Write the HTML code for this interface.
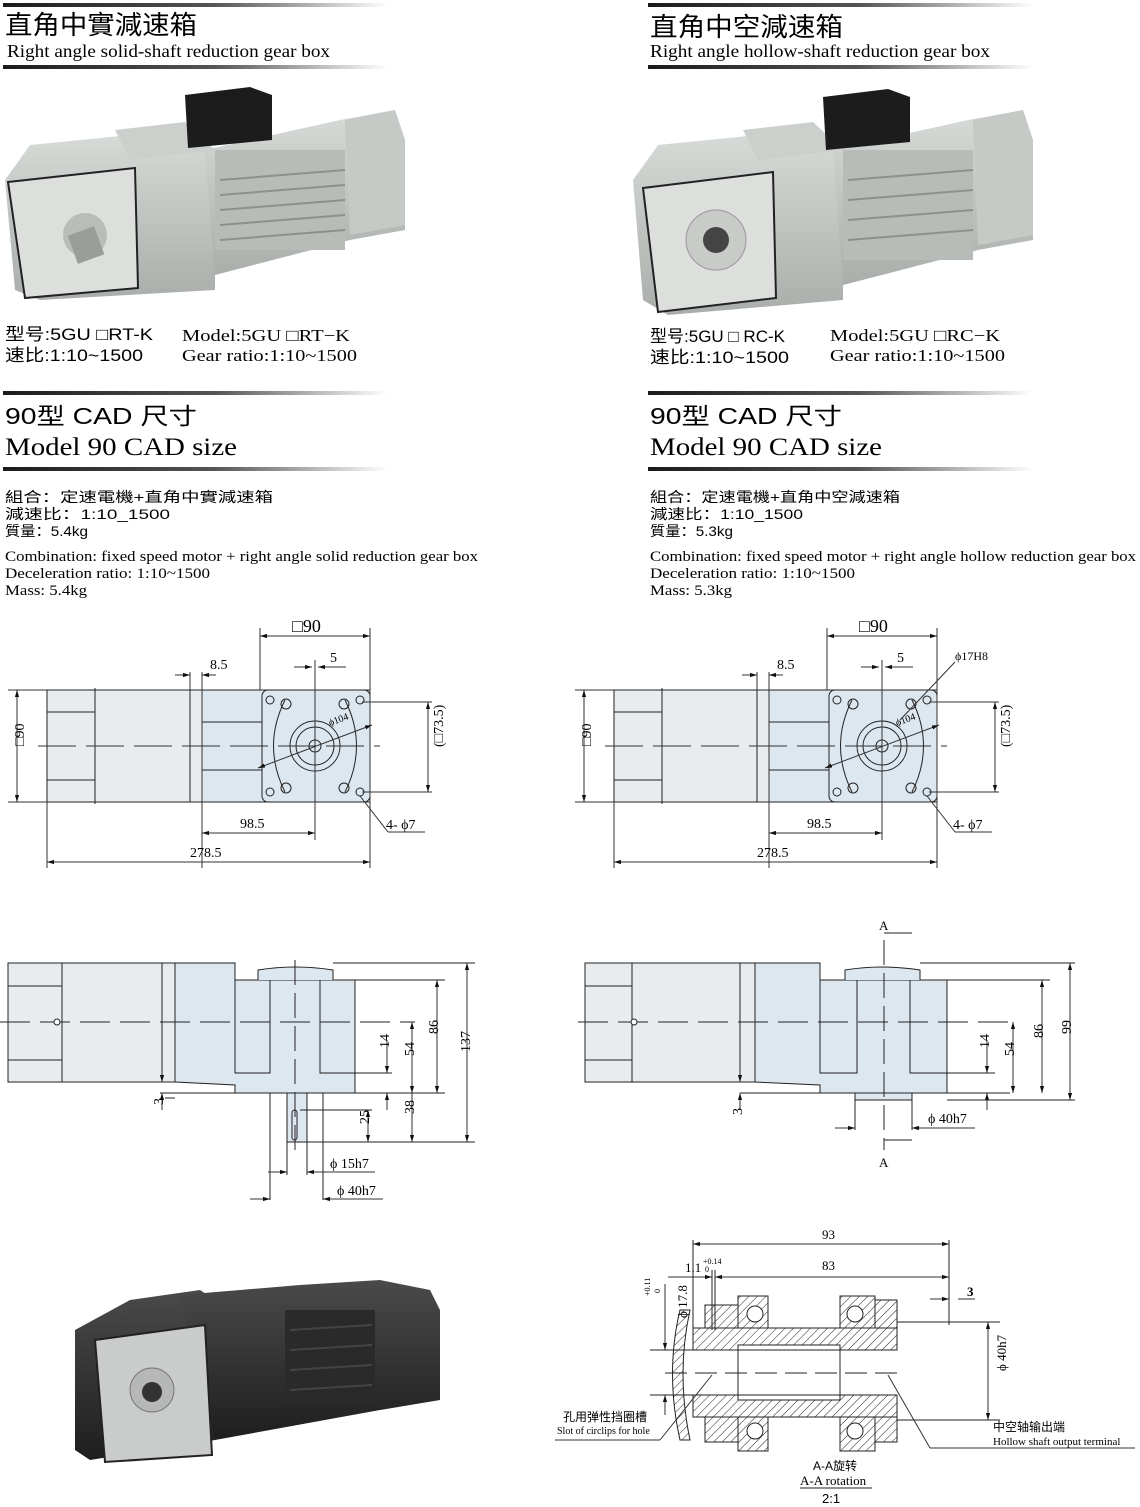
<!DOCTYPE html>
<html><head><meta charset="utf-8"><style>
body{margin:0;background:#fff;width:1140px;height:1507px;overflow:hidden}
svg{display:block}
.s{font-family:"Liberation Serif","Noto Serif CJK SC",serif}
.a{font-family:"Liberation Sans","Noto Sans CJK SC",sans-serif}
</style></head><body>
<svg width="1140" height="1507" viewBox="0 0 1140 1507" xmlns="http://www.w3.org/2000/svg">
<defs>
<linearGradient id="bar" x1="0" x2="1"><stop offset="0" stop-color="#1a1a1a"/><stop offset="0.55" stop-color="#555"/><stop offset="1" stop-color="#fff"/></linearGradient>
<linearGradient id="gray" x1="0" y1="0" x2="0" y2="1"><stop offset="0" stop-color="#d8dcd8"/><stop offset="1" stop-color="#a9aeaa"/></linearGradient>
<linearGradient id="dark" x1="0" y1="0" x2="0" y2="1"><stop offset="0" stop-color="#4a4a4a"/><stop offset="1" stop-color="#1e1e1e"/></linearGradient>
<pattern id="h" width="6" height="6" patternUnits="userSpaceOnUse" patternTransform="rotate(45)"><rect width="6" height="6" fill="#fff"/><line x1="0" y1="0" x2="0" y2="6" stroke="#222" stroke-width="1"/></pattern>
<marker id="ar" viewBox="0 0 10 10" refX="10" refY="5" markerWidth="7" markerHeight="7" orient="auto-start-reverse"><path d="M0,2 L10,5 L0,8z" fill="#111"/></marker>
<g id="d1">
<rect x="47" y="690" width="143" height="112" fill="#e9ecee" stroke="#222"/>
<line x1="47" y1="712" x2="95" y2="712" stroke="#222"/><line x1="47" y1="780" x2="95" y2="780" stroke="#222"/>
<line x1="95" y1="688" x2="95" y2="804" stroke="#222"/>
<rect x="190" y="690" width="12" height="112" fill="#e9ecee" stroke="#222"/>
<rect x="202" y="690" width="168" height="112" fill="#dde7ef" stroke="#222"/>
<line x1="202" y1="722" x2="262" y2="722" stroke="#222"/><line x1="202" y1="770" x2="262" y2="770" stroke="#222"/>
<rect x="262" y="690" width="108" height="112" rx="6" fill="#dde7ef" stroke="#222"/>
<path d="M285 700 Q262 746 285 792 M345 700 Q368 746 345 792" fill="none" stroke="#222"/>
<circle cx="315" cy="746" r="25" fill="none" stroke="#222"/><circle cx="315" cy="746" r="19" fill="none" stroke="#222"/><circle cx="315" cy="746" r="6" fill="none" stroke="#222"/>
<g fill="none" stroke="#222"><circle cx="270" cy="700" r="4"/><circle cx="360" cy="700" r="4"/><circle cx="270" cy="792" r="4"/><circle cx="360" cy="792" r="4"/>
<circle cx="286" cy="704" r="5"/><circle cx="344" cy="704" r="5"/><circle cx="286" cy="788" r="5"/><circle cx="344" cy="788" r="5"/></g>
<line x1="38" y1="746" x2="380" y2="746" stroke="#333" stroke-dasharray="38,10"/>
<line x1="315" y1="660" x2="315" y2="840" stroke="#333"/>
<line x1="258" y1="768" x2="372" y2="725" stroke="#333" marker-start="url(#ar)" marker-end="url(#ar)"/>
<text x="330" y="726" font-size="10" class="s" transform="rotate(-20 330 726)">ϕ104</text>
<line x1="260" y1="628" x2="260" y2="690" stroke="#333"/><line x1="370" y1="628" x2="370" y2="868" stroke="#333"/>
<line x1="260" y1="636" x2="370" y2="636" stroke="#333" marker-start="url(#ar)" marker-end="url(#ar)"/>
<text x="292" y="632" font-size="18" class="s">□90</text>
<line x1="294" y1="667" x2="312" y2="667" stroke="#333" marker-end="url(#ar)"/><line x1="346" y1="667" x2="318" y2="667" stroke="#333" marker-end="url(#ar)"/>
<text x="330" y="662" font-size="14" class="s">5</text>
<line x1="175" y1="675" x2="190" y2="675" stroke="#333" marker-end="url(#ar)"/><line x1="216" y1="675" x2="202" y2="675" stroke="#333" marker-end="url(#ar)"/>
<line x1="190" y1="672" x2="190" y2="690" stroke="#333"/><line x1="202" y1="672" x2="202" y2="868" stroke="#333"/>
<text x="210" y="669" font-size="14" class="s">8.5</text>
<line x1="8" y1="690" x2="47" y2="690" stroke="#333"/><line x1="8" y1="802" x2="47" y2="802" stroke="#333"/>
<line x1="17" y1="690" x2="17" y2="802" stroke="#333" marker-start="url(#ar)" marker-end="url(#ar)"/>
<text x="12" y="758" font-size="14" class="s" transform="rotate(-90 12 746)">□90</text>
<line x1="202" y1="833" x2="315" y2="833" stroke="#333" marker-start="url(#ar)" marker-end="url(#ar)"/>
<text x="240" y="828" font-size="14" class="s">98.5</text>
<line x1="47" y1="802" x2="47" y2="868" stroke="#333"/>
<line x1="47" y1="862" x2="370" y2="862" stroke="#333" marker-start="url(#ar)" marker-end="url(#ar)"/>
<text x="190" y="857" font-size="14" class="s">278.5</text>
<line x1="362" y1="702" x2="432" y2="702" stroke="#333"/><line x1="362" y1="792" x2="432" y2="792" stroke="#333"/>
<line x1="428" y1="702" x2="428" y2="792" stroke="#333" marker-start="url(#ar)" marker-end="url(#ar)"/>
<text x="420" y="770" font-size="14" class="s" transform="rotate(-90 420 747)">(□73.5)</text>
<line x1="360" y1="796" x2="388" y2="832" stroke="#333"/><line x1="388" y1="832" x2="425" y2="832" stroke="#333"/>
<text x="386" y="829" font-size="14" class="s">4- ϕ7</text>
</g>
</defs>
<!-- headers -->
<rect x="3" y="3" width="385" height="4" fill="url(#bar)"/><rect x="648" y="3" width="385" height="4" fill="url(#bar)"/>
<text x="5" y="34" font-size="26" class="a" textLength="192" lengthAdjust="spacingAndGlyphs">直角中實減速箱</text>
<text x="650" y="36" font-size="26" class="a" textLength="193" lengthAdjust="spacingAndGlyphs">直角中空減速箱</text>
<text x="7" y="57" font-size="18" class="s" textLength="323" lengthAdjust="spacingAndGlyphs">Right angle solid-shaft reduction gear box</text>
<text x="650" y="57" font-size="18" class="s" textLength="340" lengthAdjust="spacingAndGlyphs">Right angle hollow-shaft reduction gear box</text>
<rect x="3" y="65" width="385" height="4" fill="url(#bar)"/><rect x="648" y="65" width="385" height="4" fill="url(#bar)"/>
<!-- photo left -->
<g>
<polygon points="5,180 30,145 180,130 200,150 215,150 215,290 40,300 15,290" fill="url(#gray)"/>
<polygon points="115,130 185,122 215,150 130,160" fill="#ccd0cc"/>
<polygon points="205,150 340,120 395,110 405,140 405,230 350,240 215,275" fill="url(#gray)"/>
<rect x="215" y="150" width="130" height="100" fill="#b7bcb8"/>
<g stroke="#8c918d" stroke-width="2"><line x1="220" y1="180" x2="345" y2="170"/><line x1="220" y1="195" x2="345" y2="185"/><line x1="220" y1="210" x2="345" y2="200"/><line x1="220" y1="225" x2="345" y2="215"/><line x1="220" y1="240" x2="345" y2="230"/></g>
<polygon points="345,120 395,110 405,140 405,225 350,235" fill="#c5cac6"/>
<polygon points="185,95 250,87 272,95 272,140 188,148" fill="#1c1c1c"/>
<polygon points="8,182 135,168 138,288 25,298" fill="#dcdfdc" stroke="#222" stroke-width="2"/>
<circle cx="85" cy="235" r="22" fill="#b9bcb9"/><rect x="72" y="230" width="28" height="30" fill="#9a9d9a" transform="rotate(-20 86 245)"/>
</g>
<!-- photo right -->
<g transform="translate(628,0)">
<polygon points="5,180 30,145 180,130 200,150 215,150 215,300 40,315 15,300" fill="url(#gray)"/>
<polygon points="115,130 185,122 215,150 130,160" fill="#ccd0cc"/>
<polygon points="205,150 340,120 395,110 405,140 405,240 350,250 215,285" fill="url(#gray)"/>
<rect x="215" y="150" width="130" height="110" fill="#b7bcb8"/>
<g stroke="#8c918d" stroke-width="2"><line x1="220" y1="180" x2="345" y2="170"/><line x1="220" y1="200" x2="345" y2="190"/><line x1="220" y1="220" x2="345" y2="210"/><line x1="220" y1="240" x2="345" y2="230"/></g>
<polygon points="345,120 395,110 405,140 405,235 350,245" fill="#c5cac6"/>
<polygon points="195,97 260,89 282,97 282,142 198,150" fill="#1c1c1c"/>
<polygon points="15,188 145,172 148,298 30,312" fill="#dcdfdc" stroke="#222" stroke-width="2"/>
<circle cx="88" cy="240" r="30" fill="#c8cbc8" stroke="#999"/><circle cx="88" cy="240" r="13" fill="#444"/>
</g>
<!-- model text -->
<g lengthAdjust="spacingAndGlyphs">
<text x="5" y="340" font-size="17" class="a" textLength="148" lengthAdjust="spacingAndGlyphs">型号:5GU □RT-K</text>
<text x="5" y="361" font-size="17" class="a" textLength="138" lengthAdjust="spacingAndGlyphs">速比:1:10~1500</text>
<text x="182" y="341" font-size="17" class="s" textLength="168" lengthAdjust="spacingAndGlyphs">Model:5GU □RT−K</text>
<text x="182" y="361" font-size="17" class="s" textLength="175" lengthAdjust="spacingAndGlyphs">Gear ratio:1:10~1500</text>
<text x="650" y="342" font-size="17" class="a" textLength="135" lengthAdjust="spacingAndGlyphs">型号:5GU □ RC-K</text>
<text x="650" y="363" font-size="17" class="a" textLength="139" lengthAdjust="spacingAndGlyphs">速比:1:10~1500</text>
<text x="830" y="341" font-size="17" class="s" textLength="170" lengthAdjust="spacingAndGlyphs">Model:5GU □RC−K</text>
<text x="830" y="361" font-size="17" class="s" textLength="175" lengthAdjust="spacingAndGlyphs">Gear ratio:1:10~1500</text>
</g>
<rect x="3" y="391" width="385" height="4" fill="url(#bar)"/><rect x="648" y="391" width="385" height="4" fill="url(#bar)"/>
<text x="5" y="424" font-size="23" class="a" textLength="192" lengthAdjust="spacingAndGlyphs">90型  CAD 尺寸</text>
<text x="650" y="424" font-size="23" class="a" textLength="192" lengthAdjust="spacingAndGlyphs">90型  CAD 尺寸</text>
<text x="5" y="455" font-size="25" class="s" textLength="232" lengthAdjust="spacingAndGlyphs">Model 90  CAD size</text>
<text x="650" y="455" font-size="25" class="s" textLength="232" lengthAdjust="spacingAndGlyphs">Model 90  CAD size</text>
<rect x="3" y="467" width="385" height="4" fill="url(#bar)"/><rect x="648" y="467" width="385" height="4" fill="url(#bar)"/>
<g font-size="14" class="a">
<text x="5" y="502" textLength="268" lengthAdjust="spacingAndGlyphs">組合：定速電機+直角中實減速箱</text><text x="5" y="519" textLength="165" lengthAdjust="spacingAndGlyphs">減速比：1:10_1500</text><text x="5" y="536" textLength="83" lengthAdjust="spacingAndGlyphs">質量：5.4kg</text>
<text x="650" y="502" textLength="250" lengthAdjust="spacingAndGlyphs">組合：定速電機+直角中空減速箱</text><text x="650" y="519" textLength="153" lengthAdjust="spacingAndGlyphs">減速比：1:10_1500</text><text x="650" y="536" textLength="83" lengthAdjust="spacingAndGlyphs">質量：5.3kg</text>
</g>
<g font-size="15" class="s">
<text x="5" y="561" textLength="473" lengthAdjust="spacingAndGlyphs">Combination: fixed speed motor + right angle solid reduction gear box</text><text x="5" y="578" textLength="205" lengthAdjust="spacingAndGlyphs">Deceleration ratio: 1:10~1500</text><text x="5" y="595" textLength="82" lengthAdjust="spacingAndGlyphs">Mass: 5.4kg</text>
<text x="650" y="561" textLength="486" lengthAdjust="spacingAndGlyphs">Combination: fixed speed motor + right angle hollow reduction gear box</text><text x="650" y="578" textLength="205" lengthAdjust="spacingAndGlyphs">Deceleration ratio: 1:10~1500</text><text x="650" y="595" textLength="82" lengthAdjust="spacingAndGlyphs">Mass: 5.3kg</text>
</g>
<!-- drawing 1 -->
<use href="#d1"/>
<g transform="translate(567,0)"><use href="#d1"/></g>
<line x1="900" y1="720" x2="955" y2="662" stroke="#333"/><text x="955" y="660" font-size="12" class="s">ϕ17H8</text>
<!-- drawing 2 left -->
<g stroke="#222" fill="none">
<rect x="8" y="963" width="154" height="119" fill="#e9ecee"/>
<line x1="8" y1="986" x2="62" y2="986"/><line x1="8" y1="1060" x2="62" y2="1060"/><line x1="62" y1="963" x2="62" y2="1082"/>
<rect x="162" y="963" width="13" height="119" fill="#e9ecee"/>
<path d="M175 963 H235 V980 H355 V1093 H235 V1085 L175 1082 Z" fill="#dde7ef"/>
<path d="M258 980 V970 Q295 964 333 970 V980" fill="#dde7ef"/>
<path d="M235 980 V1073 H270 V980 M320 980 V1073 H355"/>
<rect x="287" y="1093" width="20" height="49" fill="#dde7ef"/>
<rect x="292" y="1110" width="5" height="30" rx="2.5"/>
<line x1="0" y1="1022" x2="415" y2="1022" stroke-dasharray="30,10"/>
<circle cx="57" cy="1022" r="3" fill="#fff"/>
<line x1="295" y1="960" x2="295" y2="1150" stroke-dasharray="25,8"/>
<line x1="160" y1="1093" x2="445" y2="1093"/>
<line x1="175" y1="1098" x2="165" y2="1098"/>
<line x1="333" y1="963" x2="475" y2="963"/><line x1="355" y1="980" x2="445" y2="980"/>
<line x1="320" y1="1073" x2="392" y2="1073"/><line x1="307" y1="1142" x2="475" y2="1142"/><line x1="300" y1="1110" x2="372" y2="1110"/>
<line x1="270" y1="1093" x2="270" y2="1200"/><line x1="323" y1="1093" x2="323" y2="1200"/><line x1="287" y1="1142" x2="287" y2="1175"/><line x1="307" y1="1142" x2="307" y2="1175"/>
</g>
<g stroke="#333">
<line x1="467" y1="963" x2="467" y2="1142" marker-start="url(#ar)" marker-end="url(#ar)"/>
<line x1="437" y1="980" x2="437" y2="1093" marker-start="url(#ar)" marker-end="url(#ar)"/>
<line x1="412" y1="1022" x2="412" y2="1093" marker-start="url(#ar)" marker-end="url(#ar)"/>
<line x1="412" y1="1093" x2="412" y2="1142" marker-end="url(#ar)"/>
<line x1="387" y1="1040" x2="387" y2="1073" marker-end="url(#ar)"/><line x1="387" y1="1110" x2="387" y2="1093" marker-end="url(#ar)"/>
<line x1="368" y1="1110" x2="368" y2="1142" marker-start="url(#ar)" marker-end="url(#ar)"/>
<line x1="162" y1="1075" x2="162" y2="1082" marker-end="url(#ar)"/><line x1="162" y1="1110" x2="162" y2="1093" marker-end="url(#ar)"/>
<line x1="268" y1="1172" x2="287" y2="1172" marker-end="url(#ar)"/><line x1="325" y1="1172" x2="307" y2="1172" marker-end="url(#ar)"/>
<line x1="250" y1="1199" x2="270" y2="1199" marker-end="url(#ar)"/><line x1="383" y1="1199" x2="323" y2="1199" marker-end="url(#ar)"/>
<line x1="325" y1="1172" x2="375" y2="1172"/>
</g>
<g font-size="14" class="s">
<text x="462" y="1060" transform="rotate(-90 462 1052)">137</text>
<text x="432" y="1040" transform="rotate(-90 432 1034)">86</text>
<text x="408" y="1062" transform="rotate(-90 408 1056)">54</text>
<text x="383" y="1054" transform="rotate(-90 383 1048)">14</text>
<text x="408" y="1120" transform="rotate(-90 408 1114)">38</text>
<text x="363" y="1130" transform="rotate(-90 363 1124)">25</text>
<text x="158" y="1110" transform="rotate(-90 158 1105)">3</text>
<text x="330" y="1168">ϕ 15h7</text><text x="337" y="1195">ϕ 40h7</text>
</g>
<!-- drawing 2 right -->
<g stroke="#222" fill="none">
<rect x="585" y="963" width="155" height="119" fill="#e9ecee"/>
<line x1="585" y1="986" x2="632" y2="986"/><line x1="585" y1="1060" x2="632" y2="1060"/><line x1="632" y1="963" x2="632" y2="1082"/>
<rect x="740" y="963" width="15" height="119" fill="#e9ecee"/>
<path d="M755 963 H820 V980 H947 V1093 H820 V1085 L755 1082 Z" fill="#dde7ef"/>
<path d="M845 980 V970 Q882 964 920 970 V980" fill="#dde7ef"/>
<path d="M820 980 V1073 H857 V980 M910 980 V1073 H947"/>
<rect x="855" y="1093" width="57" height="7" fill="#dde7ef"/>
<line x1="578" y1="1022" x2="1010" y2="1022" stroke-dasharray="30,10"/>
<circle cx="634" cy="1022" r="3" fill="#fff"/>
<line x1="884" y1="940" x2="884" y2="1150" stroke-dasharray="25,8"/>
<line x1="740" y1="1093" x2="1010" y2="1093"/>
<line x1="920" y1="963" x2="1075" y2="963"/><line x1="947" y1="980" x2="1050" y2="980"/><line x1="947" y1="1100" x2="1075" y2="1100"/>
<line x1="910" y1="1073" x2="995" y2="1073"/>
<line x1="855" y1="1100" x2="855" y2="1130"/><line x1="912" y1="1100" x2="912" y2="1130"/>
<line x1="884" y1="933" x2="912" y2="933"/><line x1="884" y1="1140" x2="912" y2="1140"/>
</g>
<g stroke="#333">
<line x1="1070" y1="963" x2="1070" y2="1100" marker-start="url(#ar)" marker-end="url(#ar)"/>
<line x1="1042" y1="980" x2="1042" y2="1093" marker-start="url(#ar)" marker-end="url(#ar)"/>
<line x1="1013" y1="1022" x2="1013" y2="1093" marker-start="url(#ar)" marker-end="url(#ar)"/>
<line x1="987" y1="1040" x2="987" y2="1073" marker-end="url(#ar)"/><line x1="987" y1="1110" x2="987" y2="1093" marker-end="url(#ar)"/>
<line x1="740" y1="1075" x2="740" y2="1082" marker-end="url(#ar)"/><line x1="740" y1="1110" x2="740" y2="1093" marker-end="url(#ar)"/>
<line x1="835" y1="1128" x2="855" y2="1128" marker-end="url(#ar)"/><line x1="975" y1="1128" x2="912" y2="1128" marker-end="url(#ar)"/>
</g>
<g font-size="14" class="s">
<text x="1065" y="1040" transform="rotate(-90 1065 1034)">99</text>
<text x="1037" y="1044" transform="rotate(-90 1037 1038)">86</text>
<text x="1008" y="1062" transform="rotate(-90 1008 1056)">54</text>
<text x="983" y="1054" transform="rotate(-90 983 1048)">14</text>
<text x="737" y="1120" transform="rotate(-90 737 1115)">3</text>
<text x="928" y="1123">ϕ 40h7</text>
<text x="879" y="930" font-size="13">A</text><text x="879" y="1167" font-size="13">A</text>
</g>
<!-- bottom photo -->
<g>
<polygon points="75,1330 130,1300 200,1290 215,1300 215,1440 90,1460 75,1450" fill="url(#dark)"/>
<polygon points="180,1295 300,1285 380,1280 430,1290 440,1310 440,1400 380,1410 215,1440" fill="url(#dark)"/>
<rect x="285" y="1310" width="90" height="95" fill="#2a2a2a"/>
<g stroke="#444" stroke-width="2"><line x1="290" y1="1330" x2="372" y2="1325"/><line x1="290" y1="1350" x2="372" y2="1345"/><line x1="290" y1="1370" x2="372" y2="1365"/><line x1="290" y1="1390" x2="372" y2="1385"/></g>
<polygon points="95,1340 205,1325 212,1455 105,1462" fill="#c9ccca" stroke="#222" stroke-width="2"/>
<circle cx="152" cy="1390" r="22" fill="#b5b8b6" stroke="#777"/><circle cx="152" cy="1392" r="10" fill="#333"/>
</g>
<!-- section A-A -->
<g stroke="#222">
<rect x="693" y="1328" width="204" height="22" fill="url(#h)"/>
<rect x="693" y="1395" width="204" height="22" fill="url(#h)"/>
<rect x="738" y="1296" width="30" height="32" fill="url(#h)"/>
<rect x="840" y="1296" width="35" height="32" fill="url(#h)"/>
<rect x="738" y="1417" width="30" height="34" fill="url(#h)"/>
<rect x="840" y="1417" width="35" height="34" fill="url(#h)"/>
<rect x="705" y="1305" width="33" height="23" fill="url(#h)"/>
<rect x="875" y="1300" width="22" height="28" fill="url(#h)"/>
<rect x="705" y="1417" width="33" height="25" fill="url(#h)"/>
<rect x="875" y="1417" width="22" height="25" fill="url(#h)"/>
<rect x="738" y="1345" width="102" height="55" fill="#fff"/>
<circle cx="755" cy="1314" r="8" fill="#fff"/><circle cx="855" cy="1314" r="8" fill="#fff"/>
<circle cx="755" cy="1431" r="8" fill="#fff"/><circle cx="855" cy="1431" r="8" fill="#fff"/>
<path d="M680 1310 Q665 1373 680 1440 L690 1440 Q676 1373 690 1310 Z" fill="url(#h)"/>
<line x1="690" y1="1350" x2="897" y2="1350" fill="none"/><line x1="690" y1="1395" x2="897" y2="1395"/>
<line x1="665" y1="1373" x2="900" y2="1373" stroke-dasharray="22,8"/>
<line x1="693" y1="1240" x2="693" y2="1330"/><line x1="949" y1="1240" x2="949" y2="1325"/>
<line x1="712" y1="1270" x2="712" y2="1330"/><line x1="715" y1="1270" x2="715" y2="1330"/>
<line x1="897" y1="1322" x2="1000" y2="1322"/><line x1="897" y1="1420" x2="1000" y2="1420"/>
<line x1="650" y1="1350" x2="700" y2="1350"/><line x1="650" y1="1395" x2="700" y2="1395"/>
</g>
<g stroke="#333">
<line x1="693" y1="1244" x2="949" y2="1244" marker-start="url(#ar)" marker-end="url(#ar)"/>
<line x1="715" y1="1277" x2="949" y2="1277" marker-start="url(#ar)" marker-end="url(#ar)"/>
<line x1="668" y1="1277" x2="712" y2="1277" marker-end="url(#ar)"/>
<line x1="988" y1="1322" x2="988" y2="1420" marker-start="url(#ar)" marker-end="url(#ar)"/>
<line x1="665" y1="1284" x2="665" y2="1350" marker-end="url(#ar)"/><line x1="665" y1="1415" x2="665" y2="1395" marker-end="url(#ar)"/>
<line x1="930" y1="1299" x2="949" y2="1299" marker-end="url(#ar)"/>
<line x1="958" y1="1299" x2="975" y2="1299"/>
<line x1="712" y1="1375" x2="660" y2="1440" fill="none"/><line x1="660" y1="1440" x2="555" y2="1440"/>
<line x1="888" y1="1375" x2="930" y2="1448"/><line x1="930" y1="1448" x2="1135" y2="1448"/>
</g>
<g class="s" font-size="13">
<text x="822" y="1239">93</text><text x="822" y="1270">83</text>
<text x="685" y="1272">1.1</text><text x="703" y="1264" font-size="8">+0.14</text><text x="705" y="1272" font-size="8">0</text>
<text x="967" y="1296" font-weight="bold">3</text>
<text x="660" y="1345" transform="rotate(-90 660 1318)">ϕ 17.8</text>
<text x="650" y="1296" font-size="8" transform="rotate(-90 650 1296)">+0.11</text>
<text x="660" y="1293" font-size="8" transform="rotate(-90 660 1293)">0</text>
<text x="982" y="1395" transform="rotate(-90 982 1371)">ϕ 40h7</text>
<text x="557" y="1434" font-size="10">Slot of circlips for hole</text>
<text x="993" y="1445" font-size="11">Hollow shaft output terminal</text>
<text x="800" y="1485" font-size="13">A-A rotation</text>
</g>
<g class="a">
<text x="563" y="1421" font-size="12">孔用弹性挡圈槽</text>
<text x="993" y="1431" font-size="12">中空轴输出端</text>
<text x="813" y="1470" font-size="12">A-A旋转</text>
<text x="822" y="1503" font-size="13">2:1</text>
</g>
<line x1="800" y1="1488" x2="872" y2="1488" stroke="#222"/>
</svg>
</body></html>
